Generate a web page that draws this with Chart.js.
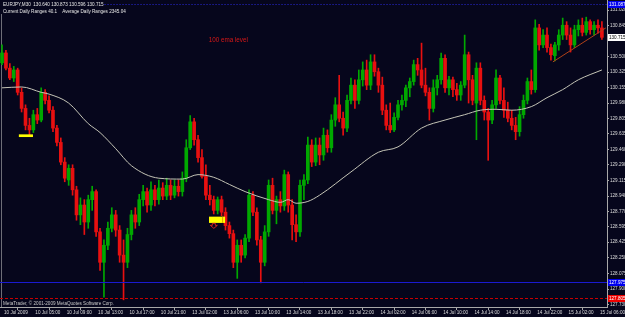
<!DOCTYPE html>
<html><head><meta charset="utf-8">
<script src="https://cdn.jsdelivr.net/npm/chart.js@4/dist/chart.umd.min.js"></script>
<style>html,body{margin:0;padding:0;background:#06061c;overflow:hidden}canvas{display:block}</style>
</head><body>
<canvas id="c" width="625" height="317"></canvas>
<script>
// ---- data (EURJPY, M30) ----
const openP = [
130.43,130.54,130.37,130.26,130.35,130.10,129.92,129.73,129.68,129.85,
129.79,130.10,130.01,129.90,129.70,129.54,129.32,129.12,129.25,129.01,
128.73,128.84,128.65,128.90,128.99,128.54,128.20,128.39,128.58,128.73,
128.56,128.28,128.20,128.51,128.73,128.65,128.90,128.99,128.84,129.01,
128.90,129.03,128.94,129.06,128.95,129.05,128.99,129.14,129.48,129.77,
129.57,129.37,129.16,128.95,128.90,128.78,128.90,128.76,128.61,128.52,
128.20,128.39,128.28,128.47,128.95,128.76,128.45,128.20,128.54,129.06,
128.78,128.90,128.83,129.18,128.84,128.62,128.54,129.06,129.12,129.51,
129.32,129.51,129.40,129.62,129.48,129.79,129.96,129.81,129.70,130.01,
130.18,130.01,130.24,130.35,130.18,130.44,130.33,130.18,129.90,129.73,
129.68,129.82,129.96,130.01,130.15,130.22,130.41,130.35,130.18,130.10,
129.92,130.15,130.24,130.48,130.15,130.24,130.13,130.07,130.18,130.52,
130.24,129.98,130.37,130.01,129.88,129.79,129.96,130.26,130.01,129.90,
129.81,129.73,129.66,129.85,130.01,130.22,130.13,130.82,130.63,130.74,
130.60,130.51,130.63,130.74,130.85,130.74,130.63,130.80,130.85,130.77,
130.89,130.80,130.85,130.82];
const highP = [
130.63,130.57,130.42,130.39,130.37,130.15,129.96,129.81,129.90,129.92,
130.15,130.13,130.06,129.94,129.73,129.59,129.37,129.29,129.29,129.05,
128.92,128.90,128.95,129.05,129.01,128.58,128.45,128.65,128.81,128.78,
128.61,128.45,128.58,128.78,128.81,128.96,129.06,129.03,129.10,129.06,
129.12,129.09,129.14,129.12,129.12,129.12,129.21,129.57,129.84,129.81,
129.62,129.46,129.29,129.06,128.94,128.93,128.94,128.81,128.65,128.56,
128.45,128.45,128.51,129.01,128.99,128.81,128.49,128.61,129.12,129.14,
128.94,128.99,129.23,129.21,128.90,128.73,129.12,129.18,129.60,129.57,
129.59,129.59,129.70,129.68,129.85,130.04,130.29,129.88,130.07,130.26,
130.24,130.35,130.44,130.46,130.52,130.52,130.37,130.27,129.96,129.98,
129.87,130.01,130.07,130.18,130.26,130.46,130.48,130.65,130.37,130.15,
130.24,130.29,130.54,130.52,130.28,130.27,130.20,130.22,130.74,130.55,
130.29,130.43,130.43,130.06,129.92,130.01,130.35,130.29,130.15,129.99,
129.90,129.82,129.94,130.07,130.26,130.35,130.91,130.86,130.80,130.82,
130.64,130.66,130.80,130.93,130.89,130.82,130.85,130.91,130.93,130.94,
130.91,130.89,130.91,130.89];
const lowP = [
130.41,130.35,130.24,130.22,130.07,129.88,129.68,129.62,129.65,129.75,
129.77,129.97,129.87,129.66,129.50,129.29,129.10,129.06,128.95,128.67,
128.62,128.51,128.58,128.78,128.49,128.11,127.81,128.34,128.54,128.49,
128.20,127.78,128.14,128.45,128.58,128.61,128.83,128.76,128.78,128.83,
128.85,128.90,128.90,128.90,128.92,128.94,128.94,129.10,129.46,129.51,
129.32,129.14,128.90,128.84,128.74,128.74,128.72,128.56,128.47,128.14,
128.02,128.20,128.25,128.43,128.72,128.39,127.97,128.16,128.49,128.74,
128.63,128.76,128.78,128.76,128.45,128.43,128.49,128.90,129.08,129.27,
129.28,129.29,129.34,129.43,129.43,129.72,129.77,129.62,129.66,129.97,
129.92,129.97,130.17,130.13,130.13,130.28,130.10,129.85,129.68,129.65,
129.66,129.79,129.90,129.94,130.05,130.18,130.29,130.15,130.06,129.79,
129.88,130.07,130.19,130.10,130.07,130.05,130.01,130.01,130.15,129.98,
129.96,129.57,129.96,129.79,129.34,129.75,129.92,129.97,129.82,129.77,
129.68,129.57,129.61,129.81,129.97,130.08,130.10,130.57,130.60,130.55,
130.46,130.45,130.57,130.69,130.69,130.55,130.60,130.73,130.73,130.74,
130.75,130.74,130.76,130.69];
const closeP = [
130.54,130.37,130.26,130.35,130.10,129.92,129.73,129.68,129.85,129.79,
130.10,130.01,129.90,129.70,129.54,129.32,129.14,129.25,129.01,128.73,
128.84,128.65,128.90,128.99,128.54,128.20,128.39,128.58,128.73,128.56,
128.28,128.20,128.51,128.73,128.65,128.90,128.99,128.84,129.01,128.90,
129.03,128.94,129.06,128.95,129.05,128.99,129.14,129.48,129.77,129.57,
129.37,129.16,128.95,128.90,128.78,128.90,128.76,128.61,128.52,128.20,
128.39,128.28,128.47,128.95,128.76,128.45,128.20,128.54,129.06,128.78,
128.90,128.83,129.18,128.84,128.62,128.54,129.06,129.12,129.51,129.32,
129.51,129.40,129.62,129.48,129.79,129.96,129.81,129.70,130.01,130.18,
130.01,130.24,130.35,130.18,130.44,130.33,130.18,129.90,129.73,129.68,
129.82,129.96,130.01,130.15,130.22,130.41,130.35,130.18,130.10,129.92,
130.15,130.24,130.48,130.15,130.24,130.13,130.07,130.18,130.52,130.24,
130.01,130.37,130.01,129.88,129.79,129.96,130.26,130.01,129.90,129.81,
129.73,129.66,129.85,130.01,130.22,130.13,130.82,130.63,130.74,130.60,
130.52,130.63,130.74,130.85,130.74,130.63,130.80,130.85,130.77,130.89,
130.80,130.85,130.82,130.715];

// moving average read at selected bars
const maIndex = [0,5,10,12,17,22,25,29,33,40,46,50,54,58,62,68,71,73,75,78,81,89,96,101,107,113,118,122,126,130,135,139,143,147,153];
const maValue = [130.15,130.16,130.10,130.08,129.98,129.75,129.65,129.47,129.28,129.14,129.13,129.18,129.15,129.07,128.99,128.90,128.87,128.90,128.86,128.88,128.95,129.21,129.43,129.49,129.70,129.79,129.85,129.90,129.91,129.90,129.94,130.04,130.13,130.24,130.35];

// trend line end points
const trendIndex = [140.5, 154];
const trendValue = [130.44, 130.82];

const xTickIndex = [0,8,16,24,32,40,48,56,64,72,80,88,96,104,112,120,128,136,144,152];
const xTickLabels = ["10 Jul 2009","10 Jul 05:00","10 Jul 09:00","10 Jul 13:00","10 Jul 17:00","10 Jul 21:00","13 Jul 02:00","13 Jul 06:00","13 Jul 10:00","13 Jul 14:00","13 Jul 18:00","13 Jul 22:00","14 Jul 02:00","14 Jul 06:00","14 Jul 10:00","14 Jul 14:00","14 Jul 18:00","14 Jul 22:00","15 Jul 02:00","15 Jul 06:00"];
const yTickValues = [131.020,130.845,130.500,130.325,130.155,129.980,129.805,129.635,129.460,129.290,129.115,128.940,128.770,128.595,128.425,128.250,128.075,127.900,127.730];

// horizontal level lines and axis price tags
const levelBlueTop = 131.087;
const levelBlueLow = 127.975;
const levelRed = 127.805;
const lastPrice = 130.715;

const headerLine1 = "EURJPY,M30  130.640 130.873 130.596 130.715";
const headerLine2 = "Current Daily Ranges 40.1    Average Daily Ranges 2345.04";
const footerText = "MetaTrader, \u00a9 2001-2009 MetaQuotes Software Corp.";
const noteText = "100 ema level";

// ---- styles ----
const BG = '#06061c';
const UP = '#00a800';
const DOWN = '#e81010';
const AXIS = '#a8a8a8';
const TXT = '#dcdcdc';
const FONT = "'Liberation Sans','DejaVu Sans',sans-serif";
const FS = 4.6;

const wickData = highP.map((h,i)=>({x:i, y:[lowP[i], h]}));
const bodyData = openP.map((o,i)=>({x:i, y:[o, closeP[i]]}));
const barColors = openP.map((o,i)=> closeP[i] >= o ? UP : DOWN);
const maData = maIndex.map((x,k)=>({x, y:maValue[k]}));
const trendData = trendIndex.map((x,k)=>({x, y:trendValue[k]}));

const bgPlugin = {
  id:'bg',
  beforeDraw(chart){
    const c = chart.ctx; c.save(); c.fillStyle = BG; c.fillRect(0,0,chart.width,chart.height); c.restore();
  }
};

function hLine(chart, price, color, dash, fromX){
  const c = chart.ctx, a = chart.chartArea, y = Math.round(chart.scales.y.getPixelForValue(price)) + 0.5;
  c.save(); c.strokeStyle = color; c.lineWidth = 1; c.setLineDash(dash);
  c.beginPath(); c.moveTo(fromX !== undefined ? fromX : a.left, y); c.lineTo(a.right, y); c.stroke(); c.restore();
}
function tag(chart, price, fill, textColor, text){
  const c = chart.ctx, a = chart.chartArea, y = chart.scales.y.getPixelForValue(price);
  c.save(); c.fillStyle = fill; c.fillRect(a.right + 1, Math.round(y) - 3, chart.width - a.right - 1, 7);
  c.fillStyle = textColor; c.font = FS + 'px ' + FONT; c.textBaseline = 'middle'; c.textAlign = 'left';
  c.fillText(text, a.right + 2, Math.round(y) + 0.5); c.restore();
}

const overlay = {
  id:'overlay',
  beforeDatasetsDraw(chart){
    const c = chart.ctx, a = chart.chartArea, xs = chart.scales.x;
    const vx = Math.round(xs.getPixelForValue(-0.2)) + 0.5;
    c.save(); c.strokeStyle = '#6e6e78'; c.lineWidth = 1; c.beginPath(); c.moveTo(vx, a.top + 14); c.lineTo(vx, a.bottom); c.stroke(); c.restore();
  },
  afterDatasetsDraw(chart){
    const c = chart.ctx, a = chart.chartArea, xs = chart.scales.x, ys = chart.scales.y;
    hLine(chart, levelBlueLow, '#1a1ad0', []);
    hLine(chart, levelRed, '#c80000', [3,2]);
    c.save(); c.fillStyle = '#ffff00';
    let x1 = xs.getPixelForValue(4.3), x2 = xs.getPixelForValue(7.9), y1 = ys.getPixelForValue(129.63), y2 = ys.getPixelForValue(129.60);
    c.fillRect(x1, y1, x2 - x1, y2 - y1);
    x1 = xs.getPixelForValue(52.8); x2 = xs.getPixelForValue(56.9); y1 = ys.getPixelForValue(128.71); y2 = ys.getPixelForValue(128.64);
    c.fillRect(x1, y1, x2 - x1, y2 - y1);
    c.fillStyle = '#e0a000'; c.fillRect(x2 - 3, y1, 1, y2 - y1);
    const ax = xs.getPixelForValue(53.9), ay = ys.getPixelForValue(128.635);
    c.strokeStyle = '#d02020'; c.lineWidth = 1; c.beginPath();
    c.moveTo(ax - 1, ay); c.lineTo(ax - 1, ay + 2); c.lineTo(ax - 3, ay + 2); c.lineTo(ax + 0.5, ay + 5); c.lineTo(ax + 4, ay + 2); c.lineTo(ax + 2, ay + 2); c.lineTo(ax + 2, ay); c.closePath(); c.stroke();
    c.fillStyle = '#d81818'; c.font = '6.3px ' + FONT; c.textAlign = 'center'; c.textBaseline = 'middle';
    c.fillText(noteText, xs.getPixelForValue(57.7), ys.getPixelForValue(130.685));
    c.font = FS + 'px ' + FONT; c.textAlign = 'left'; c.textBaseline = 'middle';
    const w1 = c.measureText(headerLine1).width;
    hLine(chart, levelBlueTop, '#2a2ae0', [1,2], a.left + w1 + 4);
    c.fillStyle = '#e8e8e8';
    c.fillText(headerLine1, a.left + 3, 4.5);
    c.fillText(headerLine2, a.left + 3, 11.5);
    c.fillStyle = '#c8c8c8';
    c.fillText(footerText, a.left + 3, a.bottom - 3);
    c.restore();
  },
  afterDraw(chart){
    tag(chart, levelBlueTop, '#0000ee', '#ffffff', levelBlueTop.toFixed(3));
    tag(chart, lastPrice, '#ffffff', '#000000', lastPrice.toFixed(3));
    tag(chart, levelBlueLow, '#0000ee', '#ffffff', levelBlueLow.toFixed(3));
    tag(chart, levelRed, '#ee0000', '#ffffff', levelRed.toFixed(3));
  }
};

new Chart(document.getElementById('c').getContext('2d'), {
  type:'bar',
  data:{ datasets:[
    {type:'line', data:maData, borderColor:'#c4c4b6', borderWidth:1, pointRadius:0, cubicInterpolationMode:'monotone', order:0},
    {type:'line', data:trendData, borderColor:'#b04018', borderWidth:1, pointRadius:0, order:0},
    {type:'bar', data:bodyData, backgroundColor:barColors, barThickness:3, grouped:false, minBarLength:1, borderWidth:0, order:1},
    {type:'bar', data:wickData, backgroundColor:barColors, barThickness:1, grouped:false, borderWidth:0, order:2}
  ]},
  options:{
    responsive:false, animation:false, devicePixelRatio:1,
    layout:{padding:0},
    plugins:{legend:{display:false}, tooltip:{enabled:false}, title:{display:false}},
    scales:{
      x:{type:'linear', min:-0.51, max:154.3, offset:false, position:'bottom',
        grid:{display:true, drawOnChartArea:false, drawTicks:true, tickLength:3, color:AXIS},
        border:{display:true, color:AXIS},
        ticks:{autoSkip:false, maxRotation:0, minRotation:0, align:'start', labelOffset:2, padding:0, color:TXT,
          font:{size:FS, family:FONT}, callback:(v,i)=> xTickLabels[i]},
        afterBuildTicks(s){ s.ticks = xTickIndex.map(v=>({value:v})); },
        afterFit(s){ s.height = 10; s.paddingLeft = 0; s.paddingRight = 0; }
      },
      y:{type:'linear', position:'right', min:127.700, max:131.132,
        grid:{display:true, drawOnChartArea:false, drawTicks:true, tickLength:2, color:AXIS},
        border:{display:true, color:AXIS},
        ticks:{padding:1, color:TXT, font:{size:FS, family:FONT}, callback:(v)=> Number(v).toFixed(3)},
        afterBuildTicks(s){ s.ticks = yTickValues.map(v=>({value:v})); },
        afterFit(s){ s.width = 18; s.paddingTop = 0; s.paddingBottom = 0; }
      }
    }
  },
  plugins:[bgPlugin, overlay]
});
</script>
</body></html>
